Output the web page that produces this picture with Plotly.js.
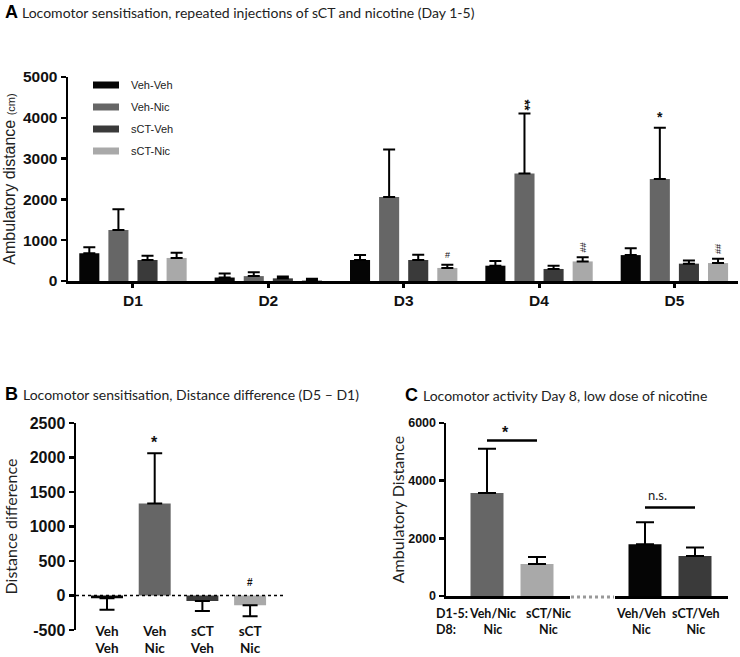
<!DOCTYPE html>
<html>
<head>
<meta charset="utf-8">
<script src="https://cdn.plot.ly/plotly-3.0.1.min.js"></script>
<style>html,body{margin:0;padding:0;background:#fff;}#chart{width:740px;height:657px;}</style>
</head>
<body>
<div id="chart"></div>
<script>
// ---------- Data ----------
const days = ['D1', 'D2', 'D3', 'D4', 'D5'];
const groupNames = ['Veh-Veh', 'Veh-Nic', 'sCT-Veh', 'sCT-Nic'];
const vehVeh    = [680, 85, 515, 375, 635];
const vehVehErr = [145, 100, 120, 115, 165];
const vehNic    = [1250, 120, 2060, 2635, 2500];
const vehNicErr = [510, 95, 1160, 1470, 1255];
const sctVeh    = [515, 65, 515, 295, 425];
const sctVehErr = [105, 45, 130, 80, 80];
const sctNic    = [565, 25, 320, 480, 440];
const sctNicErr = [130, 30, 80, 105, 105];
const sigVehNic = ['', '', '', '**', '*'];
const sigSctNic = ['', '', '#', '##', '##'];

const bCats = ['Veh<br>Veh', 'Veh<br>Nic', 'sCT<br>Veh', 'sCT<br>Nic'];
const bVals = [-40, 1335, -80, -140];
const bErrPlus = [0, 725, 0, 0];
const bErrMinus = [165, 0, 145, 160];
const bSig = ['', '*', '', '#'];
const bTicks = [-500, 0, 500, 1000, 1500, 2000, 2500];

const cLeftCats = ['Veh/Nic<br>Nic', 'sCT/Nic<br>Nic'];
const cLeftVals = [3570, 1110];
const cLeftErr = [1540, 245];
const cRightCats = ['Veh/Veh<br>Nic', 'sCT/Veh<br>Nic'];
const cRightVals = [1795, 1390];
const cRightErr = [765, 290];
const aTicks = [0, 1000, 2000, 3000, 4000, 5000];
const cTicks = [0, 2000, 4000, 6000];

// ---------- Styling ----------
const W = 740, H = 657;
const px = x => x / W;
const py = y => 1 - y / H;
const COL = {vv: '#050505', vn: '#666666', sv: '#3a3a3a', sn: '#a9a9a9'};
const groupColors = [COL.vv, COL.vn, COL.sv, COL.sn];
const tickFontOf = s => ({family: 'Liberation Sans, Arial, sans-serif', size: s, color: '#111', weight: 'bold'});
const titleFamily = 'Lato, Open Sans, sans-serif';
const zeros = arr => arr.map(() => 0);

function errUp(arr, w) {
  return {type: 'data', array: arr, arrayminus: zeros(arr), symmetric: false,
          color: '#000', thickness: 2, width: w, visible: true};
}

const traces = [];
const aSeries = [[vehVeh, vehVehErr], [vehNic, vehNicErr], [sctVeh, sctVehErr], [sctNic, sctNicErr]];
aSeries.forEach((s, i) => {
  traces.push({type: 'bar', x: days, y: s[0], name: groupNames[i], xaxis: 'x', yaxis: 'y',
    marker: {color: groupColors[i], line: {width: 0}}, error_y: errUp(s[1], 6), showlegend: false});
});

traces.push({type: 'bar', x: bCats, y: bVals, xaxis: 'x2', yaxis: 'y2', width: 0.67,
  marker: {color: [COL.vv, COL.vn, COL.sv, COL.sn], line: {width: 0}},
  error_y: {type: 'data', array: bErrPlus, arrayminus: bErrMinus, symmetric: false,
            color: '#000', thickness: 2, width: 7.5}, showlegend: false});

traces.push({type: 'bar', x: cLeftCats, y: cLeftVals, xaxis: 'x3', yaxis: 'y3', width: 0.66,
  marker: {color: [COL.vn, COL.sn], line: {width: 0}}, error_y: errUp(cLeftErr, 9), showlegend: false});
traces.push({type: 'bar', x: cRightCats, y: cRightVals, xaxis: 'x4', yaxis: 'y3', width: 0.66,
  marker: {color: [COL.vv, COL.sv], line: {width: 0}}, error_y: errUp(cRightErr, 9), showlegend: false});

// ---------- Annotations ----------
const ann = [];
function title(letter, text, xL, xT, y) {
  ann.push({xref: 'paper', yref: 'paper', x: px(xL), y: py(y), xanchor: 'left', yanchor: 'middle',
    text: letter, showarrow: false, font: {family: 'Liberation Sans, Arial', size: 18, weight: 'bold', color: '#000'}});
  ann.push({xref: 'paper', yref: 'paper', x: px(xT), y: py(y), xanchor: 'left', yanchor: 'middle',
    text: text, showarrow: false, font: {family: titleFamily, size: 14, color: '#222'}});
}
title('A', 'Locomotor sensitisation, repeated injections of sCT and nicotine (Day 1-5)', 3, 20, 12);
title('B', 'Locomotor sensitisation, Distance difference (D5 \u2013 D1)', 3, 21, 394);
title('C', 'Locomotor activity Day 8, low dose of nicotine', 403, 421, 395);

// legend (panel A)
const shapes = [];
const legY = [85, 107, 129, 151];
groupNames.forEach((n, i) => {
  shapes.push({type: 'rect', xref: 'paper', yref: 'paper', x0: px(93), x1: px(119),
    y0: py(legY[i] - 3.5), y1: py(legY[i] + 3.5), fillcolor: groupColors[i], line: {width: 0}});
  ann.push({xref: 'paper', yref: 'paper', x: px(129), y: py(legY[i]), xanchor: 'left', yanchor: 'middle',
    text: n, showarrow: false, font: {family: 'Liberation Sans, Arial', size: 11, color: '#222'}});
});

// significance marks panel A
days.forEach((d, i) => {
  if (sigVehNic[i]) ann.push({xref: 'x', yref: 'y', x: d, y: vehNic[i] + vehNicErr[i], xshift: -14.5,
    yanchor: 'bottom', yshift: 1, text: sigVehNic[i], textangle: sigVehNic[i].length > 1 ? 90 : 0,
    showarrow: false, font: {family: 'Liberation Sans, Arial', size: 14, weight: 'bold', color: '#111'}});
  if (sigSctNic[i]) ann.push({xref: 'x', yref: 'y', x: d, y: sctNic[i] + sctNicErr[i], xshift: 43.5,
    yanchor: 'bottom', yshift: 3, text: sigSctNic[i], textangle: sigSctNic[i].length > 1 ? 90 : 0,
    showarrow: false, font: {family: 'Liberation Sans, Arial', size: 9, color: '#111'}});
});
// panel B
bCats.forEach((c, i) => {
  if (bSig[i]) ann.push({xref: 'x2', yref: 'y2', x: c, y: Math.max(bVals[i], 0) + bErrPlus[i],
    yanchor: 'bottom', yshift: bSig[i] === '#' ? 6 : 0, text: bSig[i], showarrow: false,
    font: {family: 'Liberation Sans, Arial', size: bSig[i] === '#' ? 10 : 16, weight: 'bold', color: '#111'}});
});
// panel C brackets
shapes.push({type: 'line', xref: 'x3', yref: 'y3', x0: cLeftCats[0], x1: cLeftCats[1], y0: 5390, y1: 5390,
  line: {color: '#000', width: 2.5}});
shapes.push({type: 'line', xref: 'x4', yref: 'y3', x0: cRightCats[0], x1: cRightCats[1], y0: 3070, y1: 3070,
  line: {color: '#000', width: 2.5}});
ann.push({xref: 'paper', yref: 'y3', x: px(511), y: 5390, yanchor: 'bottom', yshift: -2, text: '*', showarrow: false,
  font: {family: 'Liberation Sans, Arial', size: 16, weight: 'bold', color: '#111'}});
ann.push({xref: 'paper', yref: 'y3', x: px(669), y: 3070, yanchor: 'bottom', yshift: 2, text: 'n.s.', showarrow: false,
  font: {family: titleFamily, size: 13, color: '#222'}});
const cLabFont = {family: titleFamily, size: 12.5, weight: 'bold', color: '#111'};
ann.push({xref: 'paper', yref: 'paper', x: px(434), y: py(621), xanchor: 'left', yanchor: 'middle',
  text: 'D1-5:<br>D8:', align: 'left', showarrow: false, font: cLabFont});
// category labels of panel C (drawn as annotations so they can sit slightly off-centre like the original)
const cLeftShift = [6, 11], cRightShift = [-4, 1];
cLeftCats.forEach((c, i) => ann.push({xref: 'x3', yref: 'paper', x: c, y: py(621), xshift: cLeftShift[i],
  yanchor: 'middle', text: c, align: 'center', showarrow: false, font: cLabFont}));
cRightCats.forEach((c, i) => ann.push({xref: 'x4', yref: 'paper', x: c, y: py(621), xshift: cRightShift[i],
  yanchor: 'middle', text: c, align: 'center', showarrow: false, font: cLabFont}));
// dotted gap on C axis
shapes.push({type: 'line', xref: 'paper', yref: 'paper', x0: px(571), x1: px(614), y0: py(597), y1: py(597),
  line: {color: '#999', width: 3, dash: 'dot'}});
// dotted zero line B
shapes.push({type: 'line', xref: 'x2 domain', yref: 'y2', x0: 0, x1: 1, y0: 0, y1: 0,
  line: {color: '#000', width: 1.5, dash: 'dot'}});

const axLine = {showline: true, linecolor: '#000', linewidth: 2.5, showgrid: false, zeroline: false};

const layout = {
  width: W, height: H, margin: {l: 0, r: 0, t: 0, b: 0},
  paper_bgcolor: '#fff', plot_bgcolor: '#fff',
  barmode: 'group', bargap: 0.14, bargroupgap: 0.31,
  showlegend: false,
  xaxis: Object.assign({}, axLine, {domain: [px(68), px(738)], anchor: 'y', type: 'category',
    range: [-0.48, 4.47], ticks: 'outside', ticklen: 4, tickwidth: 3, tickcolor: '#000', tickfont: tickFontOf(15.5)}),
  yaxis: Object.assign({}, axLine, {domain: [py(281), py(77)], anchor: 'x', range: [0, 5000],
    tickvals: aTicks, ticktext: aTicks.map(String), ticks: 'outside', ticklen: 5, tickwidth: 2.5, tickcolor: '#000',
    tickfont: tickFontOf(15.5),
    title: {text: 'Ambulatory distance <span style="font-size:11px">(cm)</span>', standoff: 4,
            font: {family: 'Liberation Sans, Arial', size: 16, color: '#222'}}}),
  xaxis2: {domain: [px(76), px(283)], anchor: 'y2', type: 'category', range: [-0.65, 3.69],
    showline: false, showgrid: false, zeroline: false, ticks: '', tickangle: 0, ticklabelstandoff: -9,
    tickfont: {family: titleFamily, size: 13.5, weight: 'bold', color: '#111'}},
  yaxis2: Object.assign({}, axLine, {domain: [py(630), py(423)], anchor: 'x2', range: [-500, 2500],
    tickvals: bTicks, ticktext: bTicks.map(String), ticks: 'outside', ticklen: 5, tickwidth: 2.5, tickcolor: '#000',
    tickfont: tickFontOf(16),
    title: {text: 'Distance difference', standoff: 8, font: {family: titleFamily, size: 16, color: '#222'}}}),
  xaxis3: Object.assign({}, axLine, {domain: [px(446), px(570)], anchor: 'y3', type: 'category',
    range: [-0.82, 1.66], ticks: '', showticklabels: false}),
  xaxis4: Object.assign({}, axLine, {domain: [px(615), px(728)], anchor: 'y3', type: 'category',
    range: [-0.6, 1.66], ticks: '', showticklabels: false}),
  yaxis3: Object.assign({}, axLine, {domain: [py(596), py(423)], anchor: 'x3', range: [0, 6000],
    tickvals: cTicks, ticktext: cTicks.map(String), ticks: 'outside', ticklen: 5, tickwidth: 2.5, tickcolor: '#000',
    tickfont: tickFontOf(12.5),
    title: {text: 'Ambulatory Distance', standoff: 0, font: {family: titleFamily, size: 16, color: '#222'}}}),
  annotations: ann,
  shapes: shapes
};

Plotly.newPlot('chart', traces, layout, {displayModeBar: false, staticPlot: true});
</script>
</body>
</html>
